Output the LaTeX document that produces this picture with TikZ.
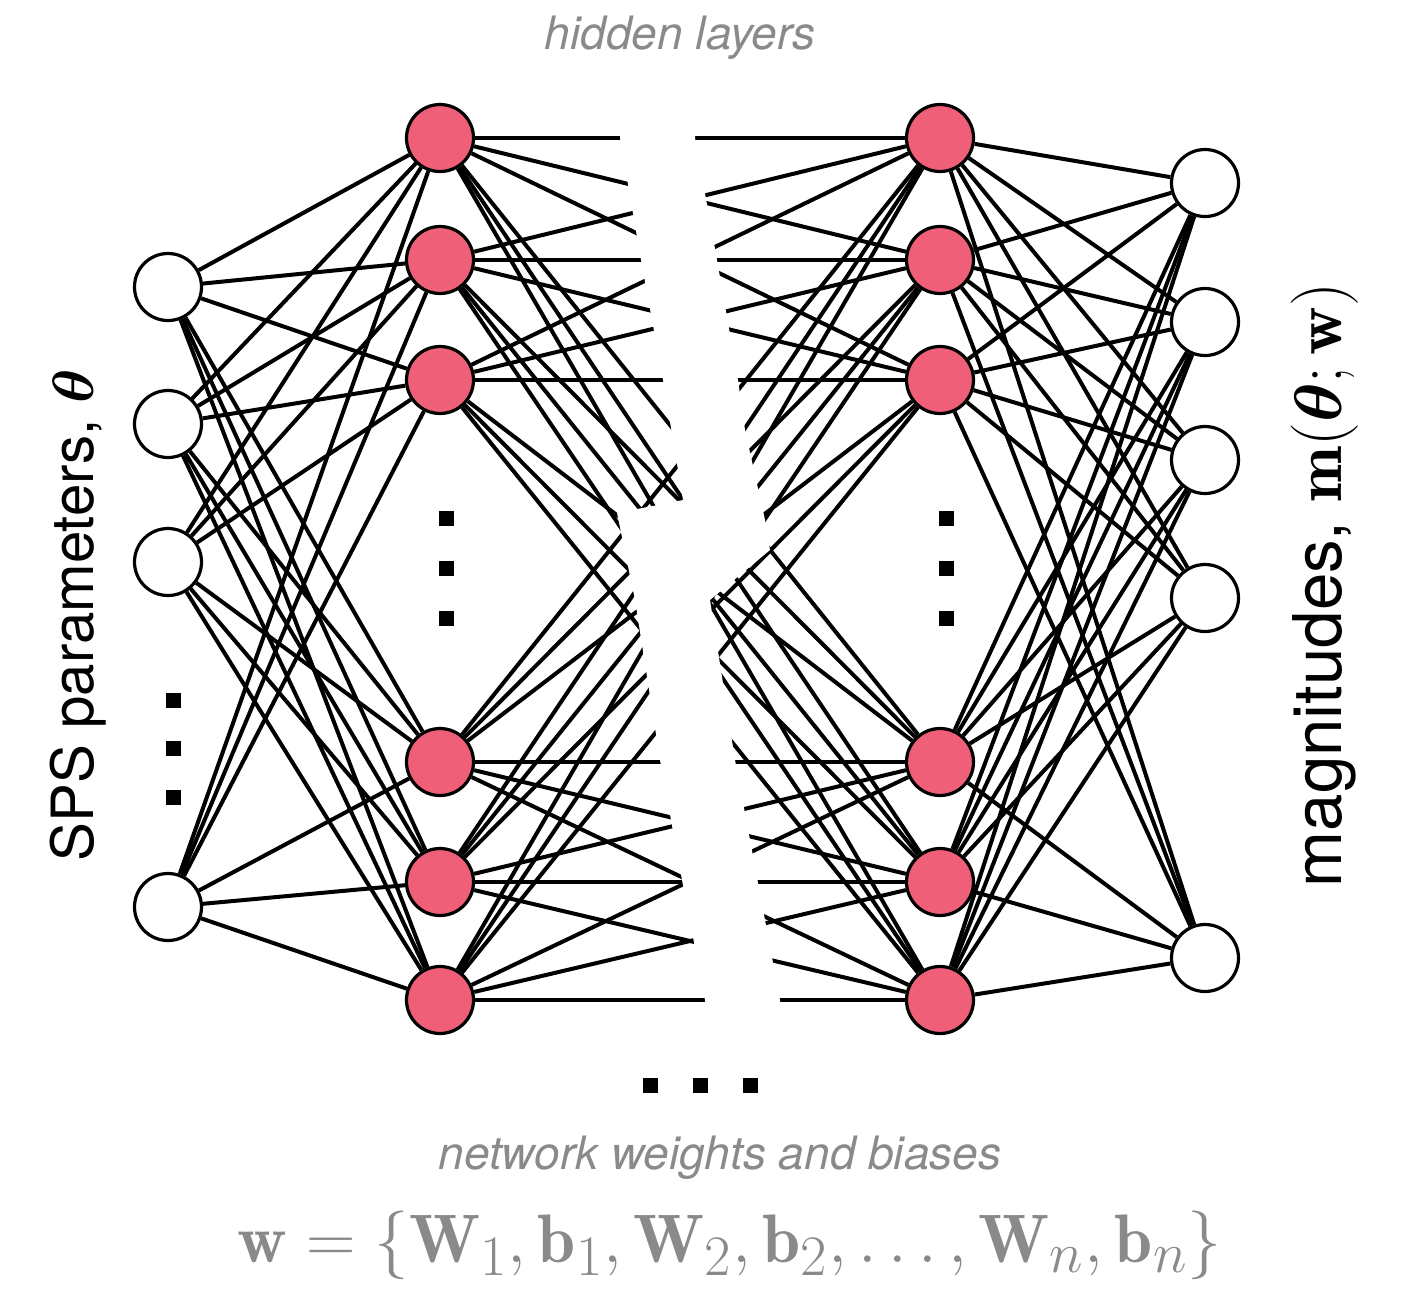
\documentclass[tikz,border=0pt]{standalone}
\usepackage{fontspec}
\setsansfont{TeX Gyre Heros}
\usepackage{amsmath}
\usepackage{bm}
\usepackage{xcolor}
\definecolor{nodered}{HTML}{EF5F78}
\definecolor{labelgray}{HTML}{8A8A8A}

\begin{document}
\begin{tikzpicture}[x=0.5pt,y=-0.5pt]
        \tikzset{unit/.style={circle,draw,line width=1.6pt,minimum size=33.5pt,inner sep=0pt},
            innode/.style={unit,fill=white},
            hidnode/.style={unit,fill=nodered},
            outnode/.style={unit,fill=white},
            link/.style={draw,line width=2pt},
            dotsq/.style={fill=black,minimum size=7.5pt,inner sep=0pt},
            caption/.style={text=labelgray,font=\fontsize{23}{27}\selectfont\sffamily\itshape}}
        \useasboundingbox (0,0) rectangle (1404,1292);
        % layers
        \foreach \y [count=\i] in {287,424,562,907}
            \node[innode] (in\i) at (168,\y) {};
        \foreach \y [count=\i] in {138,260,380,762,882,1000}
            \node[hidnode] (ha\i) at (440,\y) {};
        \foreach \y [count=\i] in {138,260,380,762,882,1000}
            \node[hidnode] (hb\i) at (940,\y) {};
        \foreach \y [count=\i] in {183,322,460,598,958}
            \node[outnode] (out\i) at (1205,\y) {};
        % connections
        \foreach \i in {1,...,4}
            \foreach \j in {1,...,6}
                \draw[link] (in\i) -- (ha\j);
        \foreach \i in {1,...,6}
            \foreach \j in {1,...,6}
                \draw[link] (ha\i) -- (hb\j);
        \foreach \i in {1,...,6}
            \foreach \j in {1,...,5}
                \draw[link] (hb\i) -- (out\j);
        % torn gap between the hidden layers
        \fill[white] (620,100) -- (620,138) -- (641,260) -- (663,380) -- (683,500) -- (617,513)
            -- (635,600) -- (660,760) -- (682,880) -- (705,1000) -- (705,1040) -- (780,1040)
            -- (780,1000) -- (765,920) -- (735,760) -- (710,600) -- (770,550) -- (765,520)
            -- (745,430) -- (738,380) -- (717,260) -- (695,138) -- (695,100) -- cycle;
        % ellipses
        \foreach \y [count=\k] in {700,748,797}
            \node[dotsq] (indot\k) at (173,\y) {};
        \foreach \y [count=\k] in {518,568,618}
            \node[dotsq] (hadot\k) at (446,\y) {};
        \foreach \y [count=\k] in {518,568,618}
            \node[dotsq] (hbdot\k) at (946,\y) {};
        \foreach \x [count=\k] in {650,700,750}
            \node[dotsq] (laydot\k) at (\x,1085) {};
        % labels
        \node[caption] (hidlbl) at (680,38) {hidden layers};
        \node[caption] (wlbl) at (720,1158) {network weights and biases};
        \node[text=labelgray,font=\Huge,scale=1.38] (wdef) at (730,1245)
            {$\mathbf{w}=\{\mathbf{W}_1,\mathbf{b}_1,\mathbf{W}_2,\mathbf{b}_2,\ldots,\mathbf{W}_n,\mathbf{b}_n\}$};
        \node[rotate=90,font=\Huge\sffamily,scale=1.17] (inlbl) at (78,615)
            {SPS parameters, $\bm{\theta}$};
        \node[rotate=90,font=\Huge\sffamily,scale=1.35] (outlbl) at (1325,585)
            {magnitudes, $\mathbf{m}(\bm{\theta};\mathbf{w})$};
\end{tikzpicture}
\end{document}
